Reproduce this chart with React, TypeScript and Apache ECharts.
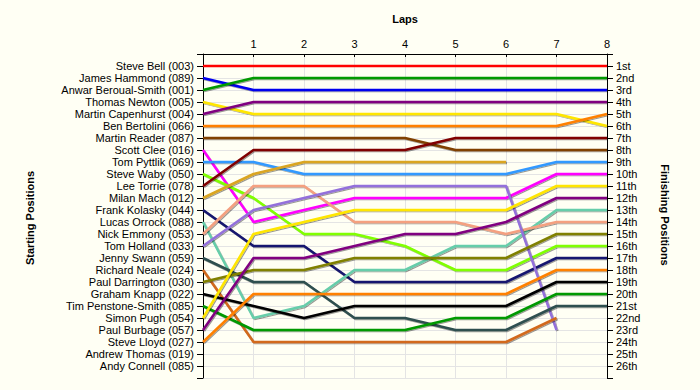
import React, { useEffect, useRef } from "react";
import * as echarts from "echarts";

const FONT = "'Liberation Sans', Arial, sans-serif";

const laps = [0, 1, 2, 3, 4, 5, 6, 7, 8];

const startNames = [
  "Steve Bell (003)",
  "James Hammond (089)",
  "Anwar Beroual-Smith (001)",
  "Thomas Newton (005)",
  "Martin Capenhurst (004)",
  "Ben Bertolini (066)",
  "Martin Reader (087)",
  "Scott Clee (016)",
  "Tom Pyttlik (069)",
  "Steve Waby (050)",
  "Lee Torrie (078)",
  "Milan Mach (012)",
  "Frank Kolasky (044)",
  "Lucas Orrock (088)",
  "Nick Emmony (053)",
  "Tom Holland (033)",
  "Jenny Swann (059)",
  "Richard Neale (024)",
  "Paul Darrington (030)",
  "Graham Knapp (022)",
  "Tim Penstone-Smith (085)",
  "Simon Pugh (054)",
  "Paul Burbage (057)",
  "Steve Lloyd (027)",
  "Andrew Thomas (019)",
  "Andy Connell (085)",
];

const finishLabels = [
  "1st", "2nd", "3rd", "4th", "5th", "6th", "7th", "8th", "9th", "10th",
  "11th", "12th", "13th", "14th", "15th", "16th", "17th", "18th", "19th", "20th",
  "21st", "22nd", "23rd", "24th", "25th", "26th",
];

// positions per lap (lap 0 .. last completed lap)
const steveBell = [1, 1, 1, 1, 1, 1, 1, 1, 1];
const jamesHammond = [2, 3, 3, 3, 3, 3, 3, 3, 3];
const anwarBeroualSmith = [3, 2, 2, 2, 2, 2, 2, 2, 2];
const thomasNewton = [4, 5, 5, 5, 5, 5, 5, 5, 6];
const martinCapenhurst = [5, 4, 4, 4, 4, 4, 4, 4, 4];
const benBertolini = [6, 6, 6, 6, 6, 6, 6, 6, 5];
const martinReader = [7, 7, 7, 7, 7, 8, 8, 8, 8];
const scottClee = [8, 14, 13, 12, 12, 12, 12, 10, 10];
const tomPyttlik = [9, 9, 10, 10, 10, 10, 10, 9, 9];
const steveWaby = [10, 12, 15, 15, 16, 18, 18, 16, 16];
const leeTorrie = [11, 8, 8, 8, 8, 7, 7, 7, 7];
const milanMach = [12, 10, 9, 9, 9, 9, 9];
const frankKolasky = [13, 16, 16, 19, 19, 19, 19, 17, 17];
const lucasOrrock = [14, 22, 21, 18, 18, 16, 16, 13, 13];
const nickEmmony = [15, 11, 11, 14, 14, 14, 15, 14, 14];
const tomHolland = [16, 13, 12, 11, 11, 11, 11, 23];
const jennySwann = [17, 19, 19, 22, 22, 23, 23, 21, 21];
const richardNeale = [18, 24, 24, 24, 24, 24, 24, 22];
const paulDarrington = [19, 18, 18, 17, 17, 17, 17, 15, 15];
const grahamKnapp = [20, 21, 22, 21, 21, 21, 21, 19, 19];
const timPenstoneSmith = [21, 23, 23, 23, 23, 22, 22, 20, 20];
const simonPugh = [22, 15, 14, 13, 13, 13, 13, 11, 11];
const paulBurbage = [23, 17, 17, 16, 15, 15, 14, 12, 12];
const steveLloyd = [24, 20, 20, 20, 20, 20, 20, 18, 18];

const driverPositions = [
  steveBell, jamesHammond, anwarBeroualSmith, thomasNewton, martinCapenhurst,
  benBertolini, martinReader, scottClee, tomPyttlik, steveWaby, leeTorrie,
  milanMach, frankKolasky, lucasOrrock, nickEmmony, tomHolland, jennySwann,
  richardNeale, paulDarrington, grahamKnapp, timPenstoneSmith, simonPugh,
  paulBurbage, steveLloyd,
];

const driverColors = [
  "#FF0000", "#0000EE", "#009900", "#FFE600", "#800080",
  "#FF8000", "#804000", "#FF00FF", "#3399FF", "#80FF00", "#800000",
  "#DAA520", "#191970", "#66CDAA", "#F4A080", "#9370DB", "#2F4F4F",
  "#D2691E", "#808000", "#000000", "#009900", "#FFE600",
  "#800080", "#FF8000",
];

export default function App() {
  const ref = useRef<HTMLDivElement>(null);

  useEffect(() => {
    if (!ref.current) return;
    const chart = echarts.init(ref.current, undefined, { renderer: "svg" });

    const series = driverPositions.map((pos, i) => {
      const flat = pos.every((p) => p === pos[0]);
      return {
        type: "line",
        name: startNames[i],
        data: pos.map((p, lap) => [laps[lap], p]),
        symbol: "none",
        showSymbol: false,
        xAxisIndex: 0,
        yAxisIndex: 0,
        z: 3,
        lineStyle: flat
          ? { color: driverColors[i], width: 2.5 }
          : {
              color: driverColors[i],
              width: 2.5,
              shadowColor: "rgba(0,0,0,0.4)",
              shadowOffsetX: 1,
              shadowOffsetY: 1,
              shadowBlur: 1,
            },
        emphasis: { disabled: true },
      };
    });

    const option: any = {
      animation: false,
      backgroundColor: "#FFFFF4",
      textStyle: { fontFamily: FONT },
      grid: { left: 203, right: 93, top: 54, bottom: 12, containLabel: false },
      xAxis: {
        type: "value",
        position: "top",
        min: 0,
        max: 8,
        interval: 1,
        axisLine: { show: true, lineStyle: { color: "#000", width: 1 } },
        axisTick: { show: true, inside: true, length: 3, lineStyle: { color: "#000" } },
        axisLabel: {
          formatter: (v: number) => (v === 0 ? "" : String(v)),
          color: "#000",
          fontSize: 11,
          fontFamily: FONT,
          margin: 5,
        },
        splitLine: { show: true, lineStyle: { color: "#E4E4E4", width: 1 } },
      },
      yAxis: [
        {
          type: "value",
          position: "left",
          inverse: true,
          min: 0,
          max: 27,
          interval: 1,
          axisLine: { show: true, onZero: false, lineStyle: { color: "#000", width: 1 } },
          axisTick: { show: true, length: 6, lineStyle: { color: "#000" } },
          axisLabel: {
            formatter: (v: number) => startNames[v - 1] || "",
            color: "#000",
            fontSize: 11,
            fontFamily: FONT,
            margin: 9,
          },
          splitLine: { show: true, lineStyle: { color: "#E4E4E4", width: 1 } },
        },
        {
          type: "value",
          position: "right",
          inverse: true,
          min: 0,
          max: 27,
          interval: 1,
          axisLine: { show: true, onZero: false, lineStyle: { color: "#000", width: 1 } },
          axisTick: { show: true, length: 6, lineStyle: { color: "#000" } },
          axisLabel: {
            formatter: (v: number) => finishLabels[v - 1] || "",
            color: "#000",
            fontSize: 11,
            fontFamily: FONT,
            margin: 9,
          },
          splitLine: { show: false },
        },
      ],
      graphic: [
        {
          type: "text",
          x: 405,
          y: 19,
          style: {
            text: "Laps",
            font: `bold 11px ${FONT}`,
            fill: "#000",
            align: "center",
            verticalAlign: "middle",
          },
        },
        {
          type: "text",
          x: 30,
          y: 218,
          rotation: Math.PI / 2,
          style: {
            text: "Starting Positions",
            font: `bold 11px ${FONT}`,
            fill: "#000",
            align: "center",
            verticalAlign: "middle",
          },
        },
        {
          type: "text",
          x: 665,
          y: 215,
          rotation: -Math.PI / 2,
          style: {
            text: "Finishing Positions",
            font: `bold 11px ${FONT}`,
            fill: "#000",
            align: "center",
            verticalAlign: "middle",
          },
        },
      ],
      series,
    };

    chart.setOption(option);
    return () => chart.dispose();
  }, []);

  return (
    <div
      ref={ref}
      style={{ position: "absolute", left: 0, top: 0, width: 700, height: 390 }}
    />
  );
}
